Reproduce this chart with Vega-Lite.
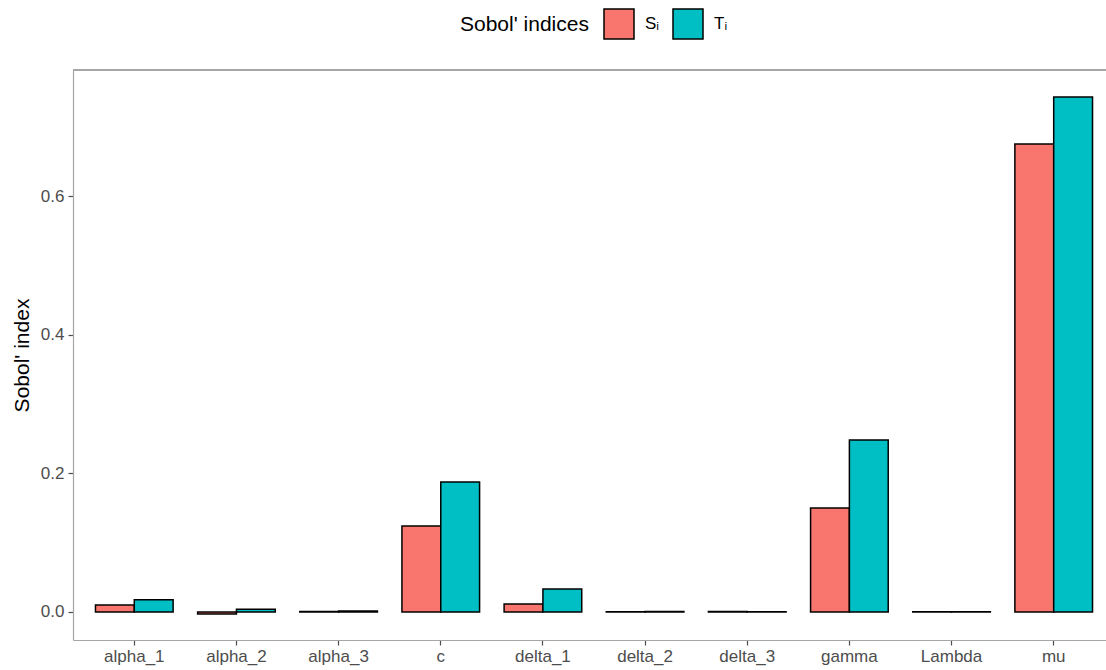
{
  "$schema": "https://vega.github.io/schema/vega-lite/v6.json",
  "width": 1033,
  "height": 570,
  "autosize": {"type": "none"},
  "padding": {"left": 73, "top": 70, "right": 0, "bottom": 30},
  "background": "white",
  "config": {
    "font": "Liberation Sans",
    "view": {"stroke": null},
    "axis": {"grid": false, "domainColor": "#a6a6a6", "domainWidth": 1.2, "tickColor": "#4d4d4d", "tickWidth": 1.2, "labelColor": "#4d4d4d", "labelFontSize": 17, "tickSize": 5, "titleFontSize": 21, "titleColor": "#000000", "titleFontWeight": "normal"}
  },
  "data": {
    "values": [
      {"parameter": "alpha_1", "index": "Sᵢ", "value": 0.010},
      {"parameter": "alpha_1", "index": "Tᵢ", "value": 0.0175},
      {"parameter": "alpha_2", "index": "Sᵢ", "value": -0.003},
      {"parameter": "alpha_2", "index": "Tᵢ", "value": 0.004},
      {"parameter": "alpha_3", "index": "Sᵢ", "value": 0.0008},
      {"parameter": "alpha_3", "index": "Tᵢ", "value": 0.0015},
      {"parameter": "c", "index": "Sᵢ", "value": 0.124},
      {"parameter": "c", "index": "Tᵢ", "value": 0.1875},
      {"parameter": "delta_1", "index": "Sᵢ", "value": 0.0115},
      {"parameter": "delta_1", "index": "Tᵢ", "value": 0.033},
      {"parameter": "delta_2", "index": "Sᵢ", "value": 0.0004},
      {"parameter": "delta_2", "index": "Tᵢ", "value": 0.0008},
      {"parameter": "delta_3", "index": "Sᵢ", "value": 0.0008},
      {"parameter": "delta_3", "index": "Tᵢ", "value": 0.0004},
      {"parameter": "gamma", "index": "Sᵢ", "value": 0.150},
      {"parameter": "gamma", "index": "Tᵢ", "value": 0.248},
      {"parameter": "Lambda", "index": "Sᵢ", "value": 0.0002},
      {"parameter": "Lambda", "index": "Tᵢ", "value": 0.0003},
      {"parameter": "mu", "index": "Sᵢ", "value": 0.675},
      {"parameter": "mu", "index": "Tᵢ", "value": 0.743}
    ]
  },
  "layer": [
    {
      "mark": {"type": "bar", "stroke": "#000000", "strokeWidth": 1.5},
      "encoding": {
        "x": {
          "field": "parameter",
          "type": "nominal",
          "sort": ["alpha_1", "alpha_2", "alpha_3", "c", "delta_1", "delta_2", "delta_3", "gamma", "Lambda", "mu"],
          "scale": {"range": [0, 1042], "paddingInner": 0.24, "paddingOuter": 0.22},
          "axis": {"title": null, "labelAngle": 0, "labelPadding": 3}
        },
        "xOffset": {
          "field": "index",
          "type": "nominal",
          "scale": {"paddingInner": 0, "paddingOuter": 0}
        },
        "y": {
          "field": "value",
          "type": "quantitative",
          "scale": {"domain": [-0.0404, 0.7818], "nice": false, "zero": false},
          "axis": {"title": "Sobol' index", "values": [0, 0.2, 0.4, 0.6], "format": ".1f", "titlePadding": 8, "labelPadding": 4}
        },
        "fill": {
          "field": "index",
          "type": "nominal",
          "scale": {"domain": ["Sᵢ", "Tᵢ"], "range": ["#F8766D", "#00BFC4"]},
          "legend": {
            "title": "Sobol' indices",
            "orient": "none",
            "legendX": 387,
            "legendY": -62,
            "direction": "horizontal",
            "titleOrient": "left",
            "titleFontSize": 21,
            "titleFontWeight": "normal",
            "titleColor": "#000000",
            "titlePadding": 14,
            "labelFontSize": 17,
            "labelColor": "#000000",
            "symbolType": "square",
            "symbolSize": 900,
            "symbolStrokeColor": "#000000",
            "symbolStrokeWidth": 1.5,
            "columnPadding": 10,
            "labelOffset": 10
          }
        }
      }
    },
    {
      "mark": {"type": "rule", "color": "#a6a6a6", "strokeWidth": 1.2},
      "encoding": {"y": {"datum": 0.7818}}
    }
  ]
}
